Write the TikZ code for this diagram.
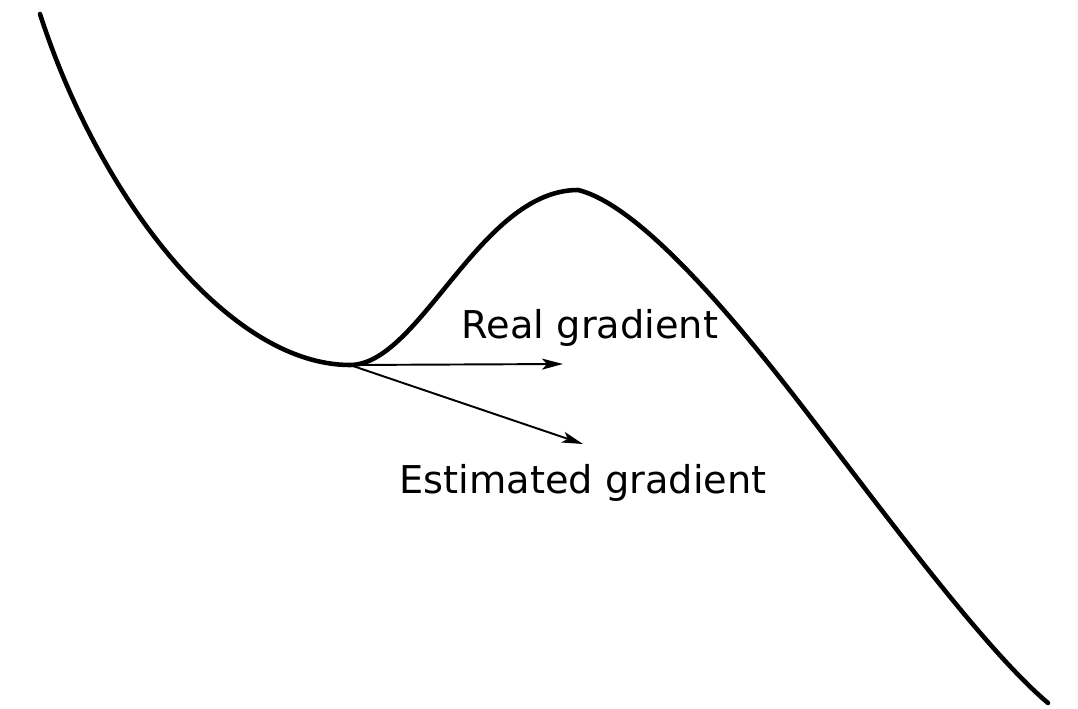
\documentclass[tikz,border=0pt]{standalone}
\usepackage{fontspec}
\setmainfont{DejaVu Sans}
\usepackage{tikz}
\usetikzlibrary{arrows.meta}

\begin{document}
\begin{tikzpicture}[thick, >={Stealth[length=0.42cm, width=0.22cm, inset=0.1cm]}]
	% Stili comuni
	\tikzset{
		funzione/.style={line width=2.6pt, line cap=round},
		gradiente/.style={->, line width=1.1pt},
		etichetta/.style={font=\fontsize{21.8}{26}\selectfont, inner sep=0pt}
	}
	\useasboundingbox (0,0) rectangle (21.56,14.16);
	
	% Punti della curva
	\coordinate (inizio) at (0.8, 13.88);
	\coordinate (minimo) at (7.0, 6.86);
	\coordinate (picco) at (11.56, 10.36);
	\coordinate (flesso) at (16.1, 5.96);
	\coordinate (fine) at (20.96, 0.1);
	
	% Curva
	\draw[funzione] (inizio) .. controls (2.0, 10.16) and (4.6, 6.86) .. (minimo)
		.. controls (8.4, 6.86) and (9.6, 10.36) .. (picco)
		.. controls (12.8, 10.06) and (14.7, 7.78) .. (flesso)
		.. controls (17.7, 3.88) and (19.7, 1.16) .. (fine);
	
	% Punte dei gradienti
	\coordinate (reale) at (11.26, 6.88);
	\coordinate (stimato) at (11.66, 5.28);
	
	% Frecce
	\draw[gradiente] (minimo) -- (reale);
	\draw[gradiente] (minimo) -- (stimato);
	
	% Etichette
	\node[etichetta] (realLabel) at (11.8, 7.6) {Real gradient};
	\node[etichetta] (estLabel) at (11.66, 4.5) {Estimated gradient};
\end{tikzpicture}
\end{document}
